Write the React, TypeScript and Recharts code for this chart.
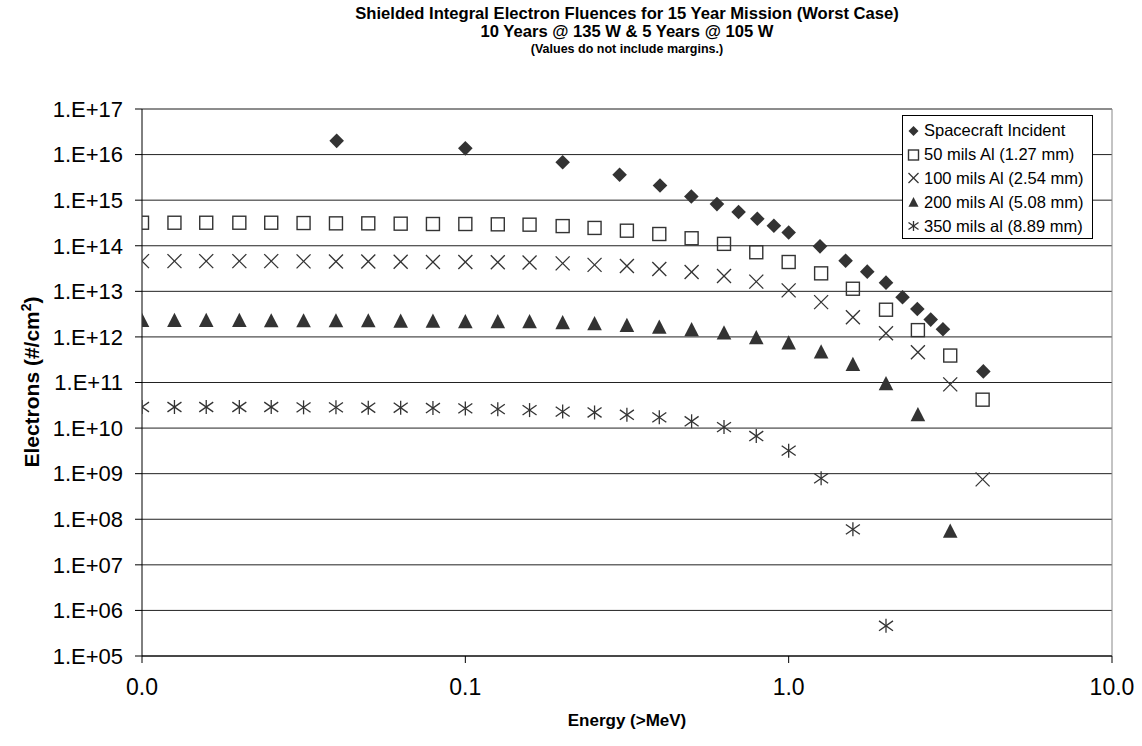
import React from 'react'
import {
  ScatterChart,
  Scatter,
  XAxis,
  YAxis,
  CartesianGrid,
  ReferenceLine,
  Legend,
} from 'recharts'

// energies (>MeV) for the unshielded environment
const ENERGY_INCIDENT = [0.04, 0.1, 0.2, 0.3, 0.4, 0.5, 0.6, 0.7, 0.8, 0.9, 1.0, 1.25, 1.5, 1.75, 2.0, 2.25, 2.5, 2.75, 3.0, 4.0]
const INCIDENT = [2.0e16, 1.37e16, 6.8e15, 3.6e15, 2.1e15, 1.2e15, 8.2e14, 5.5e14, 3.9e14, 2.75e14, 1.95e14, 9.7e13, 4.7e13, 2.7e13, 1.55e13, 7.4e12, 4.1e12, 2.4e12, 1.47e12, 1.75e11]

// energies for the shielded curves
const ENERGY_SHIELDED = [0.01, 0.0126, 0.0158, 0.02, 0.0251, 0.0316, 0.0398, 0.0501, 0.0631, 0.0794, 0.1, 0.126, 0.158, 0.2, 0.251, 0.316, 0.398, 0.501, 0.631, 0.794, 1.0, 1.26, 1.58, 2.0, 2.51, 3.16, 3.98]
const MILS_50 = [3.2e14, 3.2e14, 3.2e14, 3.2e14, 3.2e14, 3.15e14, 3.1e14, 3.1e14, 3.05e14, 3.0e14, 3.0e14, 2.95e14, 2.9e14, 2.7e14, 2.46e14, 2.14e14, 1.81e14, 1.46e14, 1.1e14, 7.2e13, 4.4e13, 2.48e13, 1.14e13, 3.95e12, 1.41e12, 3.9e11, 4.2e10]
const MILS_100 = [4.6e13, 4.6e13, 4.6e13, 4.6e13, 4.6e13, 4.55e13, 4.5e13, 4.5e13, 4.45e13, 4.4e13, 4.4e13, 4.35e13, 4.3e13, 4.1e13, 3.8e13, 3.6e13, 3.1e13, 2.65e13, 2.17e13, 1.63e13, 1.05e13, 5.8e12, 2.7e12, 1.2e12, 4.6e11, 9.1e10, 7.5e8]
const MILS_200 = [2.35e12, 2.35e12, 2.35e12, 2.35e12, 2.3e12, 2.3e12, 2.3e12, 2.3e12, 2.25e12, 2.25e12, 2.2e12, 2.2e12, 2.2e12, 2.09e12, 1.99e12, 1.82e12, 1.67e12, 1.47e12, 1.24e12, 9.8e11, 7.5e11, 4.75e11, 2.54e11, 9.6e10, 2.0e10, 5.6e7]
const MILS_350 = [2.9e10, 2.9e10, 2.9e10, 2.9e10, 2.9e10, 2.85e10, 2.85e10, 2.8e10, 2.8e10, 2.75e10, 2.7e10, 2.6e10, 2.48e10, 2.3e10, 2.2e10, 1.96e10, 1.72e10, 1.41e10, 1.05e10, 6.7e9, 3.2e9, 7.9e8, 6.0e7, 4.6e5]

const X_TICKS = [0.01, 0.1, 1, 10]
const Y_TICKS = [1e5, 1e6, 1e7, 1e8, 1e9, 1e10, 1e11, 1e12, 1e13, 1e14, 1e15, 1e16, 1e17]

const INK = '#333333'
const FONT = "'Liberation Sans', Arial, Helvetica, sans-serif"

const toPoints = (xs: number[], ys: number[]) => ys.map((y, i) => ({ x: xs[i], y }))

type MarkerProps = { cx?: number; cy?: number; s?: number }

const Diamond = ({ cx = 0, cy = 0, s = 7.3 }: MarkerProps) => (
  <polygon points={`${cx},${cy - s} ${cx + s},${cy} ${cx},${cy + s} ${cx - s},${cy}`} fill={INK} />
)
const Square = ({ cx = 0, cy = 0, s = 6.5 }: MarkerProps) => (
  <rect x={cx - s} y={cy - s} width={s * 2} height={s * 2} fill="none" stroke={INK} strokeWidth={1.4} />
)
const Cross = ({ cx = 0, cy = 0, s = 7 }: MarkerProps) => (
  <g stroke={INK} strokeWidth={1.3}>
    <line x1={cx - s} y1={cy - s} x2={cx + s} y2={cy + s} />
    <line x1={cx - s} y1={cy + s} x2={cx + s} y2={cy - s} />
  </g>
)
const Triangle = ({ cx = 0, cy = 0, s = 7.3 }: MarkerProps) => (
  <polygon points={`${cx},${cy - s} ${cx + s},${cy + s * 0.95} ${cx - s},${cy + s * 0.95}`} fill={INK} />
)
const Asterisk = ({ cx = 0, cy = 0, s = 7 }: MarkerProps) => (
  <g stroke={INK} strokeWidth={1.3}>
    <line x1={cx} y1={cy - s} x2={cx} y2={cy + s} />
    <line x1={cx - s} y1={cy - s * 0.7} x2={cx + s} y2={cy + s * 0.7} />
    <line x1={cx - s} y1={cy + s * 0.7} x2={cx + s} y2={cy - s * 0.7} />
  </g>
)

const SERIES = [
  { name: 'Spacecraft Incident', data: toPoints(ENERGY_INCIDENT, INCIDENT), Marker: Diamond },
  { name: '50 mils Al (1.27 mm)', data: toPoints(ENERGY_SHIELDED, MILS_50), Marker: Square },
  { name: '100 mils Al (2.54 mm)', data: toPoints(ENERGY_SHIELDED, MILS_100), Marker: Cross },
  { name: '200 mils Al (5.08 mm)', data: toPoints(ENERGY_SHIELDED, MILS_200), Marker: Triangle },
  { name: '350 mils al (8.89 mm)', data: toPoints(ENERGY_SHIELDED, MILS_350), Marker: Asterisk },
]

const LegendBox = () => (
  <div
    style={{
      border: '1px solid #000',
      background: '#fff',
      width: 189,
      padding: '3px 0 0',
      fontFamily: FONT,
      fontSize: 16.5,
      color: '#000',
    }}
  >
    {SERIES.map(({ name, Marker }) => (
      <div key={name} style={{ display: 'flex', alignItems: 'center', height: 23.8 }}>
        <svg width={21} height={14} style={{ flex: 'none' }}>
          <Marker cx={10.5} cy={7} s={5} />
        </svg>
        <span style={{ whiteSpace: 'nowrap' }}>{name}</span>
      </div>
    ))}
  </div>
)

const fmtY = (v: number) => `1.E+${String(Math.round(Math.log10(v))).padStart(2, '0')}`

export default function App() {
  return (
    <div style={{ position: 'absolute', left: 0, top: 0, width: 1142, height: 746, background: '#fff', fontFamily: FONT }}>
      <div style={{ position: 'absolute', left: 142, width: 970, top: 5, textAlign: 'center', fontWeight: 'bold', color: '#000' }}>
        <div style={{ fontSize: 16.6, lineHeight: '18px' }}>Shielded Integral Electron Fluences for 15 Year Mission (Worst Case)</div>
        <div style={{ fontSize: 16.6, lineHeight: '18px' }}>10 Years @ 135 W &amp; 5 Years @ 105 W</div>
        <div style={{ fontSize: 12.5, lineHeight: '16px' }}>(Values do not include margins.)</div>
      </div>

      <ScatterChart width={1142} height={746} margin={{ top: 109, right: 30, left: 0, bottom: 0 }}>
        <CartesianGrid vertical={false} stroke="#222" />
        <XAxis
          dataKey="x"
          type="number"
          scale="log"
          domain={[0.01, 10]}
          ticks={X_TICKS}
          interval={0}
          allowDataOverflow
          tickFormatter={(v: number) => v.toFixed(1)}
          tick={{ fill: '#000', fontSize: 23, fontFamily: FONT }}
          tickSize={7}
          tickMargin={16}
          axisLine={{ stroke: '#000' }}
          tickLine={{ stroke: '#000' }}
          height={90}
        />
        <YAxis
          dataKey="y"
          type="number"
          scale="log"
          domain={[1e5, 1e17]}
          ticks={Y_TICKS}
          interval={0}
          allowDataOverflow
          tickFormatter={fmtY}
          tick={{ fill: '#000', fontSize: 22, fontFamily: FONT }}
          tickSize={7}
          tickMargin={12}
          axisLine={{ stroke: '#000' }}
          tickLine={{ stroke: '#000' }}
          width={142}
        />
        <ReferenceLine y={1e17} stroke="#888" />
        <ReferenceLine x={10} stroke="#888" />
        {SERIES.map(({ name, data, Marker }) => (
          <Scatter
            key={name}
            name={name}
            data={data}
            isAnimationActive={false}
            shape={(p: any) => <Marker cx={p.cx} cy={p.cy} />}
          />
        ))}
        <Legend
          layout="horizontal"
          verticalAlign="middle"
          align="center"
          content={() => <LegendBox />}
          wrapperStyle={{ left: 902, top: 115, width: 'auto', height: 'auto' }}
        />
      </ScatterChart>

      <div
        style={{
          position: 'absolute',
          left: 32 - 150,
          top: 382 - 12,
          width: 300,
          height: 24,
          lineHeight: '24px',
          textAlign: 'center',
          transform: 'rotate(-90deg)',
          fontWeight: 'bold',
          fontSize: 21,
          color: '#000',
          whiteSpace: 'nowrap',
        }}
      >
        Electrons (#/cm<sup style={{ fontSize: 14, lineHeight: 0 }}>2</sup>)
      </div>
      <div
        style={{
          position: 'absolute',
          left: 142,
          width: 970,
          top: 710,
          textAlign: 'center',
          fontWeight: 'bold',
          fontSize: 17,
          lineHeight: '22px',
          color: '#000',
        }}
      >
        Energy (&gt;MeV)
      </div>
    </div>
  )
}
